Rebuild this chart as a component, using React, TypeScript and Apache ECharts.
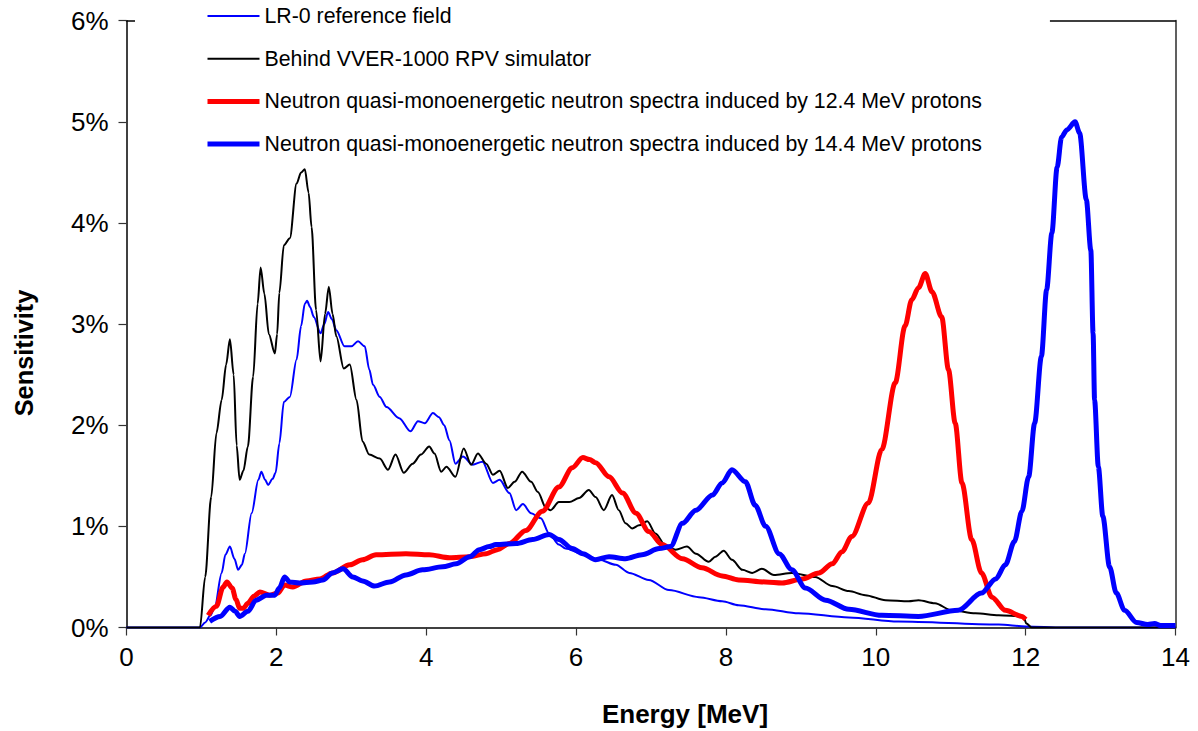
import React, { useEffect, useRef } from "react";
import * as echarts from "echarts";

const FONT = "'Liberation Sans', Arial, sans-serif";

const seriesNames = [
  "LR-0 reference field",
  "Behind VVER-1000 RPV simulator",
  "Neutron quasi-monoenergetic neutron spectra induced by 12.4 MeV protons",
  "Neutron quasi-monoenergetic neutron spectra induced by 14.4 MeV protons",
];

const xTicks = { min: 0, max: 14, interval: 2 };
const yTicks = { min: 0, max: 6, interval: 1 };

// [Energy MeV, Sensitivity %]
const lr0Data: [number, number][] = [
  [0, 0], [0.98, 0], [1.05, 0.05], [1.12, 0.12], [1.18, 0.21], [1.27, 0.54], [1.32, 0.72], [1.38, 0.8],
  [1.44, 0.68], [1.49, 0.57], [1.54, 0.62], [1.58, 0.73], [1.67, 1.13], [1.76, 1.46], [1.8, 1.54],
  [1.85, 1.46], [1.89, 1.41], [1.95, 1.47], [1.99, 1.53], [2.04, 1.82], [2.1, 2.23], [2.18, 2.28],
  [2.27, 2.65], [2.33, 2.98], [2.38, 3.2], [2.41, 3.23], [2.45, 3.17], [2.5, 3.07], [2.59, 2.91],
  [2.64, 3.0], [2.69, 3.12], [2.74, 3.05], [2.8, 2.94], [2.91, 2.78], [3.0, 2.78], [3.09, 2.83],
  [3.18, 2.78], [3.24, 2.55], [3.29, 2.4], [3.38, 2.28], [3.47, 2.18], [3.64, 2.07], [3.79, 1.94],
  [3.89, 2.04], [3.98, 2.02], [4.09, 2.12], [4.17, 2.08], [4.24, 2.0], [4.31, 1.85], [4.39, 1.62],
  [4.49, 1.69], [4.62, 1.61], [4.75, 1.64], [4.89, 1.43], [4.98, 1.46], [5.11, 1.33], [5.2, 1.16],
  [5.29, 1.22], [5.4, 1.13], [5.53, 1.08], [5.64, 0.93], [5.77, 0.82], [5.86, 0.78], [6.08, 0.73],
  [6.31, 0.67], [6.53, 0.62], [6.71, 0.54], [6.97, 0.47], [7.24, 0.37], [7.64, 0.3], [7.95, 0.26],
  [8.17, 0.22], [8.53, 0.18], [8.97, 0.14], [9.64, 0.1], [10.3, 0.06], [11.64, 0.03], [12.0, 0.01],
  [12.5, 0], [14, 0],
];

const vverData: [number, number][] = [
  [0, 0], [0.98, 0], [1.05, 0.5], [1.13, 1.29], [1.2, 1.92], [1.27, 2.25], [1.33, 2.6], [1.38, 2.85],
  [1.43, 2.5], [1.47, 1.8], [1.51, 1.46], [1.56, 1.55], [1.62, 1.79], [1.69, 2.48], [1.75, 3.2],
  [1.79, 3.56], [1.84, 3.3], [1.9, 2.9], [1.98, 2.71], [2.01, 2.9], [2.04, 3.31], [2.1, 3.78],
  [2.18, 3.85], [2.27, 4.39], [2.33, 4.5], [2.38, 4.53], [2.43, 4.3], [2.47, 3.96], [2.53, 3.14],
  [2.59, 2.63], [2.65, 3.1], [2.7, 3.37], [2.75, 3.1], [2.8, 2.88], [2.9, 2.56], [2.98, 2.6],
  [3.07, 2.25], [3.15, 1.84], [3.24, 1.71], [3.38, 1.67], [3.49, 1.56], [3.59, 1.71], [3.7, 1.53],
  [3.82, 1.62], [3.93, 1.71], [4.04, 1.79], [4.11, 1.72], [4.2, 1.54], [4.27, 1.59], [4.39, 1.49],
  [4.5, 1.77], [4.6, 1.61], [4.69, 1.72], [4.8, 1.62], [4.89, 1.51], [4.98, 1.55], [5.09, 1.38],
  [5.18, 1.44], [5.28, 1.54], [5.4, 1.44], [5.49, 1.34], [5.6, 1.18], [5.66, 1.16], [5.77, 1.24],
  [5.91, 1.24], [6.04, 1.28], [6.17, 1.36], [6.26, 1.29], [6.37, 1.16], [6.48, 1.31], [6.57, 1.16],
  [6.66, 1.03], [6.75, 0.98], [6.84, 1.01], [6.95, 1.05], [7.06, 0.93], [7.2, 0.8], [7.33, 0.77],
  [7.48, 0.8], [7.6, 0.73], [7.77, 0.65], [7.86, 0.7], [7.97, 0.76], [8.08, 0.67], [8.22, 0.57],
  [8.35, 0.54], [8.48, 0.58], [8.64, 0.52], [8.88, 0.54], [9.19, 0.5], [9.42, 0.41], [9.64, 0.36],
  [9.86, 0.32], [10.13, 0.27], [10.44, 0.26], [10.57, 0.27], [10.79, 0.24], [11.01, 0.17],
  [11.33, 0.14], [11.64, 0.12], [11.97, 0.11], [12.01, 0.04], [12.08, 0], [14, 0],
];

const p124Data: [number, number][] = [
  [1.09, 0.12], [1.2, 0.21], [1.29, 0.4], [1.34, 0.45], [1.41, 0.39], [1.46, 0.28], [1.51, 0.19],
  [1.56, 0.19], [1.62, 0.24], [1.7, 0.31], [1.78, 0.35], [1.91, 0.32], [2.02, 0.34], [2.11, 0.42],
  [2.22, 0.4], [2.4, 0.46], [2.58, 0.48], [2.75, 0.54], [2.98, 0.62], [3.15, 0.67], [3.33, 0.72],
  [3.73, 0.73], [4.04, 0.72], [4.31, 0.69], [4.58, 0.7], [4.8, 0.73], [4.95, 0.77], [5.11, 0.83],
  [5.33, 0.96], [5.55, 1.15], [5.77, 1.39], [5.95, 1.58], [6.09, 1.68], [6.18, 1.66], [6.26, 1.63],
  [6.44, 1.49], [6.62, 1.33], [6.8, 1.13], [6.97, 0.95], [7.15, 0.82], [7.42, 0.68], [7.68, 0.59],
  [7.95, 0.51], [8.17, 0.47], [8.53, 0.45], [8.75, 0.44], [9.02, 0.48], [9.24, 0.54], [9.42, 0.63],
  [9.55, 0.75], [9.68, 0.9], [9.9, 1.23], [10.08, 1.76], [10.26, 2.42], [10.39, 2.98], [10.48, 3.24],
  [10.57, 3.36], [10.66, 3.5], [10.75, 3.32], [10.88, 3.07], [10.97, 2.55], [11.06, 2.02],
  [11.15, 1.43], [11.28, 0.87], [11.41, 0.54], [11.55, 0.3], [11.73, 0.17], [11.95, 0.11], [12.0, 0.08],
];

const p144Data: [number, number][] = [
  [1.11, 0.06], [1.25, 0.11], [1.38, 0.2], [1.45, 0.16], [1.51, 0.11], [1.62, 0.16], [1.73, 0.27],
  [1.87, 0.32], [1.98, 0.32], [2.04, 0.39], [2.11, 0.5], [2.18, 0.45], [2.31, 0.44], [2.49, 0.45],
  [2.62, 0.47], [2.75, 0.54], [2.89, 0.58], [3.02, 0.5], [3.15, 0.46], [3.31, 0.41], [3.51, 0.45],
  [3.73, 0.52], [3.95, 0.57], [4.22, 0.6], [4.4, 0.63], [4.58, 0.7], [4.71, 0.77], [4.84, 0.8],
  [4.93, 0.82], [5.2, 0.83], [5.42, 0.87], [5.64, 0.92], [5.77, 0.87], [5.95, 0.78], [6.09, 0.73],
  [6.26, 0.67], [6.44, 0.7], [6.66, 0.68], [6.88, 0.72], [7.11, 0.78], [7.26, 0.8], [7.42, 1.03],
  [7.6, 1.16], [7.82, 1.31], [7.95, 1.43], [8.08, 1.56], [8.26, 1.44], [8.39, 1.21], [8.53, 1.0],
  [8.71, 0.73], [8.88, 0.57], [9.06, 0.39], [9.33, 0.27], [9.64, 0.18], [10.08, 0.12], [10.57, 0.11],
  [11.1, 0.17], [11.41, 0.34], [11.6, 0.48], [11.73, 0.62], [11.85, 0.85], [11.95, 1.15], [12.04, 1.49],
  [12.12, 2.02], [12.21, 2.68], [12.28, 3.34], [12.35, 3.9], [12.42, 4.55], [12.48, 4.85], [12.55, 4.92],
  [12.66, 5.0], [12.72, 4.89], [12.81, 4.23], [12.87, 3.73], [12.9, 2.91], [12.92, 2.25], [12.97, 1.59],
  [13.03, 1.1], [13.12, 0.6], [13.21, 0.34], [13.32, 0.17], [13.48, 0.05], [13.63, 0.03], [13.72, 0.04],
  [13.8, 0.02], [14, 0.02],
];

const seriesData = [lr0Data, vverData, p124Data, p144Data];
const seriesColors = ["#0000ff", "#000000", "#ff0000", "#0000ff"];
const seriesWidths = [2, 2, 5, 5];

export default function App() {
  const ref = useRef<HTMLDivElement>(null);

  useEffect(() => {
    if (!ref.current) return;
    const chart = echarts.init(ref.current, undefined, { renderer: "svg" });
    const grid = { left: 126.5, right: 22.5, top: 20.7, bottom: 103.5 };
    chart.setOption({
      animation: false,
      backgroundColor: "#ffffff",
      grid: { ...grid, containLabel: false },
      legend: {
        orient: "vertical",
        left: 135,
        top: 0,
        padding: [4, 68, 4, 70],
        itemGap: 18.7,
        itemWidth: 52,
        itemHeight: 14,
        backgroundColor: "#ffffff",
        itemStyle: { opacity: 0 },
        textStyle: { fontSize: 21.3, fontFamily: FONT, color: "#000", lineHeight: 24 },
        data: seriesNames.map((name, i) => ({
          name,
          itemStyle: { opacity: 0 },
          lineStyle: { color: seriesColors[i], width: seriesWidths[i] === 2 ? 2 : 5, opacity: 1 },
        })),
      },
      xAxis: [
        {
          type: "value",
          min: xTicks.min,
          max: xTicks.max,
          interval: xTicks.interval,
          position: "bottom",
          axisLine: { show: true, onZero: false, lineStyle: { color: "#000", width: 1.5 } },
          axisTick: { show: true, inside: false, length: 8, lineStyle: { color: "#333", width: 1.2 } },
          axisLabel: { margin: 16, fontSize: 26, fontFamily: FONT, color: "#000" },
          splitLine: { show: false },
        },
        {
          type: "value",
          min: xTicks.min,
          max: xTicks.max,
          position: "top",
          axisLine: { show: true, onZero: false, lineStyle: { color: "#000", width: 1.5 } },
          axisTick: { show: false },
          axisLabel: { show: false },
          splitLine: { show: false },
        },
      ],
      yAxis: [
        {
          type: "value",
          min: yTicks.min,
          max: yTicks.max,
          interval: yTicks.interval,
          position: "left",
          axisLine: { show: true, onZero: false, lineStyle: { color: "#000", width: 1.5 } },
          axisTick: { show: true, inside: false, length: 8, lineStyle: { color: "#333", width: 1.2 } },
          axisLabel: {
            margin: 18,
            fontSize: 26,
            fontFamily: FONT,
            color: "#000",
            formatter: "{value}%",
          },
          splitLine: { show: false },
        },
        {
          type: "value",
          min: yTicks.min,
          max: yTicks.max,
          position: "right",
          axisLine: { show: true, onZero: false, lineStyle: { color: "#606060", width: 2 } },
          axisTick: { show: false },
          axisLabel: { show: false },
          splitLine: { show: false },
        },
      ],
      graphic: [
        {
          type: "text",
          x: 24,
          y: 353,
          rotation: Math.PI / 2,
          style: {
            text: "Sensitivity",
            fontSize: 25.3,
            fontWeight: "bold",
            fontFamily: FONT,
            fill: "#000",
            textAlign: "center",
            textVerticalAlign: "middle",
          },
        },
        {
          type: "text",
          x: 685,
          y: 714,
          style: {
            text: "Energy [MeV]",
            fontSize: 26,
            fontWeight: "bold",
            fontFamily: FONT,
            fill: "#000",
            textAlign: "center",
            textVerticalAlign: "middle",
          },
        },
      ],
      series: seriesNames.map((name, i) => ({
        name,
        type: "line",
        xAxisIndex: 0,
        yAxisIndex: 0,
        data: seriesData[i],
        showSymbol: false,
        symbol: "none",
        smooth: 0.3,
        smoothMonotone: "x",
        lineStyle: { color: seriesColors[i], width: seriesWidths[i] },
        itemStyle: { color: seriesColors[i] },
        z: 2 + i,
      })),
    });
    return () => chart.dispose();
  }, []);

  return (
    <div
      ref={ref}
      style={{ position: "fixed", left: 0, top: 0, width: 1198, height: 731, background: "#fff" }}
    />
  );
}
